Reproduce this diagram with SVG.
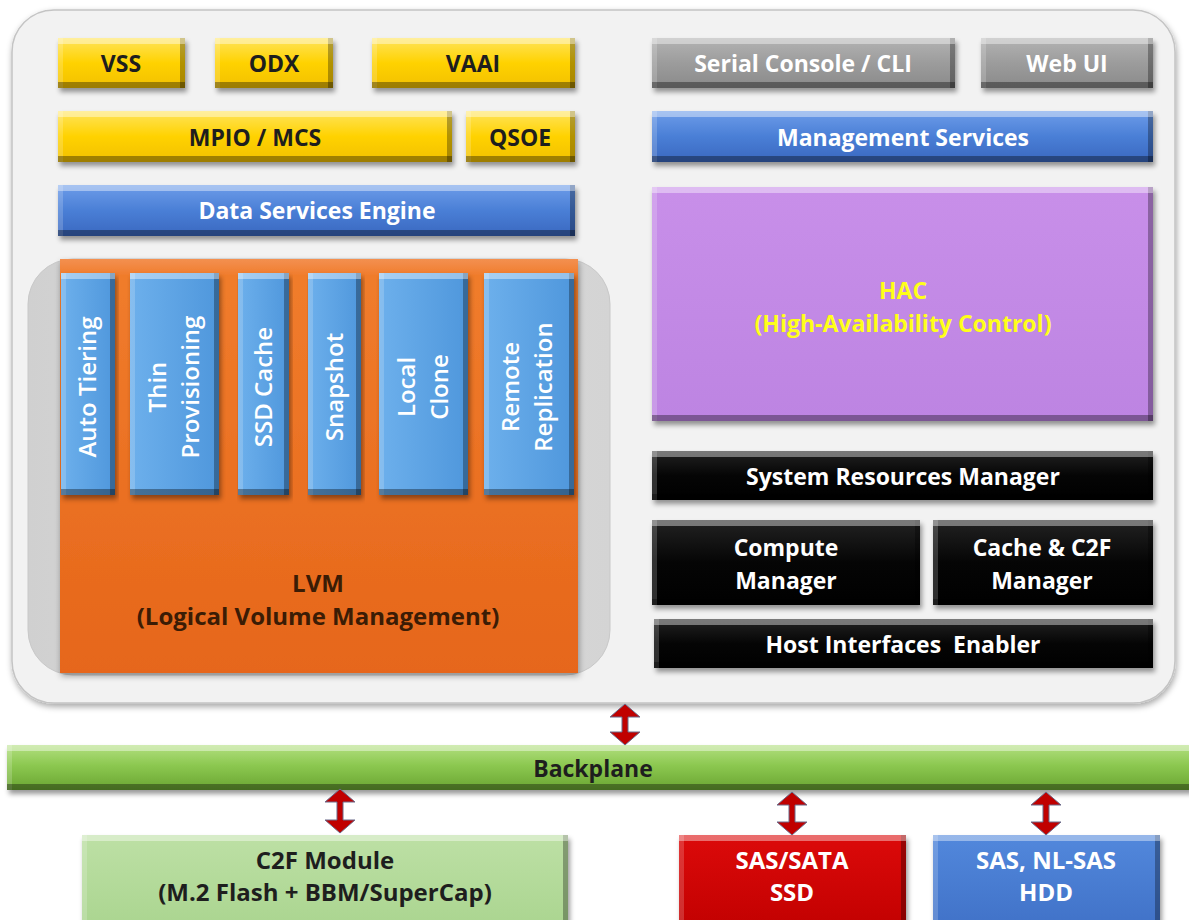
<svg xmlns="http://www.w3.org/2000/svg" width="1189" height="920" viewBox="0 0 1189 920">
<defs>
<style>
text{font-family:"Open Sans",Lato,"Liberation Sans",sans-serif;font-weight:700;font-size:23px;text-anchor:middle;}
.dk{fill:#1e1e1e;}
.wt{fill:#ffffff;}
.yl{fill:#ffff1a;}
.org{fill:#3b1c05;}
.pre{white-space:pre;}
.big{font-size:24px;}
.bx{filter:url(#bevel);}
.vt{font-size:24px;font-weight:600;}
.conn path{fill:#c00000;stroke:#6b6b8a;stroke-width:1;}
</style>
<linearGradient id="gYellow" x1="0" y1="0" x2="0" y2="1"><stop offset="0" stop-color="#ffe45c"/><stop offset="0.5" stop-color="#ffd200"/><stop offset="1" stop-color="#f2c000"/></linearGradient>
<linearGradient id="gGray" x1="0" y1="0" x2="0" y2="1"><stop offset="0" stop-color="#b3b3b3"/><stop offset="0.5" stop-color="#9c9c9c"/><stop offset="1" stop-color="#8a8a8a"/></linearGradient>
<linearGradient id="gBlue" x1="0" y1="0" x2="0" y2="1"><stop offset="0" stop-color="#6d9ce9"/><stop offset="0.5" stop-color="#4a7fd6"/><stop offset="1" stop-color="#3a68c0"/></linearGradient>
<linearGradient id="gPurple" x1="0" y1="0" x2="0" y2="1"><stop offset="0" stop-color="#c88fe9"/><stop offset="1" stop-color="#bd84e2"/></linearGradient>
<linearGradient id="gBlack" x1="0" y1="0" x2="0" y2="1"><stop offset="0" stop-color="#222"/><stop offset="0.5" stop-color="#050505"/><stop offset="1" stop-color="#000"/></linearGradient>
<linearGradient id="gOrange" x1="0" y1="0" x2="0" y2="1"><stop offset="0" stop-color="#f39050"/><stop offset="0.04" stop-color="#f07c2c"/><stop offset="1" stop-color="#e6661a"/></linearGradient>
<linearGradient id="gLBlue" x1="0" y1="0" x2="1" y2="0"><stop offset="0" stop-color="#6db0ec"/><stop offset="1" stop-color="#4f97dc"/></linearGradient>
<linearGradient id="gGreen" x1="0" y1="0" x2="0" y2="1"><stop offset="0" stop-color="#b2df80"/><stop offset="0.45" stop-color="#8cc850"/><stop offset="1" stop-color="#6aa532"/></linearGradient>
<linearGradient id="gC2F" x1="0" y1="0" x2="0" y2="1"><stop offset="0" stop-color="#bde0a5"/><stop offset="1" stop-color="#a9d48e"/></linearGradient>
<linearGradient id="gRed" x1="0" y1="0" x2="0" y2="1"><stop offset="0" stop-color="#dc0a0a"/><stop offset="1" stop-color="#c00000"/></linearGradient>
<linearGradient id="gHDD" x1="0" y1="0" x2="0" y2="1"><stop offset="0" stop-color="#5288dc"/><stop offset="1" stop-color="#3f70c6"/></linearGradient>
<linearGradient id="gInner" x1="0" y1="0" x2="1" y2="0"><stop offset="0" stop-color="#d0d0d0"/><stop offset="0.5" stop-color="#dcdcdc"/><stop offset="1" stop-color="#d4d4d4"/></linearGradient>
<filter id="bevel" x="-5%" y="-15%" width="112%" height="140%" color-interpolation-filters="sRGB">
 <feOffset in="SourceAlpha" dx="0" dy="6" result="dn"/>
 <feComposite in="SourceAlpha" in2="dn" operator="out" result="topb"/>
 <feFlood flood-color="#ffffff" flood-opacity="0.4"/>
 <feComposite in2="topb" operator="in" result="topl"/>
 <feOffset in="SourceAlpha" dx="0" dy="-6" result="up"/>
 <feComposite in="SourceAlpha" in2="up" operator="out" result="botb"/>
 <feFlood flood-color="#000000" flood-opacity="0.35"/>
 <feComposite in2="botb" operator="in" result="botl"/>
 <feOffset in="SourceAlpha" dx="5" dy="0" result="rt"/>
 <feComposite in="SourceAlpha" in2="rt" operator="out" result="leftb"/>
 <feFlood flood-color="#ffffff" flood-opacity="0.18"/>
 <feComposite in2="leftb" operator="in" result="leftl"/>
 <feOffset in="SourceAlpha" dx="-5" dy="0" result="lf"/>
 <feComposite in="SourceAlpha" in2="lf" operator="out" result="rightb"/>
 <feFlood flood-color="#000000" flood-opacity="0.3"/>
 <feComposite in2="rightb" operator="in" result="rightl"/>
 <feGaussianBlur in="SourceAlpha" stdDeviation="2.5"/>
 <feOffset dx="2" dy="4" result="sb"/>
 <feFlood flood-color="#000000" flood-opacity="0.4"/>
 <feComposite in2="sb" operator="in" result="shadow"/>
 <feMerge><feMergeNode in="shadow"/><feMergeNode in="SourceGraphic"/><feMergeNode in="leftl"/><feMergeNode in="rightl"/><feMergeNode in="topl"/><feMergeNode in="botl"/></feMerge>
</filter>
<filter id="soft" x="-5%" y="-5%" width="110%" height="112%">
 <feDropShadow dx="1" dy="3" stdDeviation="3" flood-color="#000" flood-opacity="0.35"/>
</filter>
</defs>

<rect x="0" y="0" width="1189" height="920" fill="#ffffff"/>

<g id="container">
 <rect x="12" y="10" width="1163" height="693" rx="42" fill="#f2f2f2" stroke="#c4c4c4" stroke-width="1.5" filter="url(#soft)"/>
</g>

<g id="vss"><rect class="bx" x="58" y="38" width="127" height="50" fill="url(#gYellow)"/><text class="dk" x="121" y="72">VSS</text></g>
<g id="odx"><rect class="bx" x="215" y="38" width="118" height="50" fill="url(#gYellow)"/><text class="dk" x="274" y="72">ODX</text></g>
<g id="vaai"><rect class="bx" x="372" y="38" width="203" height="50" fill="url(#gYellow)"/><text class="dk" x="473" y="72">VAAI</text></g>
<g id="mpio"><rect class="bx" x="58" y="111" width="394" height="51" fill="url(#gYellow)"/><text class="dk" x="255" y="146">MPIO / MCS</text></g>
<g id="qsoe"><rect class="bx" x="466" y="111" width="109" height="51" fill="url(#gYellow)"/><text class="dk" x="520" y="146">QSOE</text></g>
<g id="dse"><rect class="bx" x="58" y="185" width="517" height="51" fill="url(#gBlue)"/><text class="wt" x="317" y="219">Data Services Engine</text></g>

<g id="serial"><rect class="bx" x="652" y="38" width="303" height="50" fill="url(#gGray)"/><text class="wt" x="803" y="72">Serial Console / CLI</text></g>
<g id="webui"><rect class="bx" x="981" y="38" width="172" height="50" fill="url(#gGray)"/><text class="wt" x="1067" y="72">Web UI</text></g>
<g id="mgmt"><rect class="bx" x="652" y="111" width="501" height="51" fill="url(#gBlue)"/><text class="wt" x="903" y="146">Management Services</text></g>
<g id="hac"><rect class="bx" x="652" y="187" width="501" height="234" fill="url(#gPurple)"/><text class="yl" x="903" y="299">HAC</text><text class="yl" x="903" y="332">(High-Availability Control)</text></g>
<g id="srm"><rect class="bx" x="652" y="451" width="501" height="49" fill="url(#gBlack)"/><text class="wt" x="903" y="485">System Resources Manager</text></g>
<g id="compute"><rect class="bx" x="652" y="520" width="268" height="85" fill="url(#gBlack)"/><text class="wt" x="786" y="556">Compute</text><text class="wt" x="786" y="589">Manager</text></g>
<g id="cachec2f"><rect class="bx" x="933" y="520" width="220" height="85" fill="url(#gBlack)"/><text class="wt" x="1042" y="556">Cache &amp; C2F</text><text class="wt" x="1042" y="589">Manager</text></g>
<g id="hostif"><rect class="bx" x="654" y="619" width="499" height="49" fill="url(#gBlack)"/><text class="wt pre" x="903" y="653">Host Interfaces  Enabler</text></g>

<g id="lvm-frame"><rect x="28" y="259" width="582" height="416" rx="45" fill="url(#gInner)" stroke="#c8c8c8" stroke-width="1"/></g>
<g id="lvm"><rect x="60" y="259" width="518" height="414" fill="url(#gOrange)" filter="url(#soft)"/><text class="org big" x="318" y="592">LVM</text><text class="org big" x="318" y="625">(Logical Volume Management)</text></g>

<g id="autotiering"><rect class="bx" x="61" y="273" width="54" height="222" fill="url(#gLBlue)"/><text class="wt vt" transform="translate(88,387) rotate(-90)" y="8">Auto Tiering</text></g>
<g id="thinprov"><rect class="bx" x="130" y="273" width="89" height="222" fill="url(#gLBlue)"/><text class="wt vt" transform="translate(174,387) rotate(-90)"><tspan x="0" y="-8">Thin</tspan><tspan x="0" y="25">Provisioning</tspan></text></g>
<g id="ssdcache"><rect class="bx" x="238" y="273" width="51" height="222" fill="url(#gLBlue)"/><text class="wt vt" transform="translate(264,387) rotate(-90)" y="8">SSD Cache</text></g>
<g id="snapshot"><rect class="bx" x="308" y="273" width="53" height="222" fill="url(#gLBlue)"/><text class="wt vt" transform="translate(335,387) rotate(-90)" y="8">Snapshot</text></g>
<g id="localclone"><rect class="bx" x="379" y="273" width="89" height="222" fill="url(#gLBlue)"/><text class="wt vt" transform="translate(423,387) rotate(-90)"><tspan x="0" y="-8">Local</tspan><tspan x="0" y="25">Clone</tspan></text></g>
<g id="remoterep"><rect class="bx" x="484" y="273" width="90" height="222" fill="url(#gLBlue)"/><text class="wt vt" transform="translate(527,387) rotate(-90)"><tspan x="0" y="-8">Remote</tspan><tspan x="0" y="25">Replication</tspan></text></g>

<g id="backplane"><rect class="bx" x="7" y="745" width="1190" height="45" fill="url(#gGreen)"/><text class="dk" x="593" y="777">Backplane</text></g>

<g id="c2f"><rect class="bx" x="82" y="835" width="486" height="100" fill="url(#gC2F)"/><text class="dk big" x="325" y="869">C2F Module</text><text class="dk big" x="325" y="901">(M.2 Flash + BBM/SuperCap)</text></g>
<g id="ssd"><rect class="bx" x="679" y="835" width="227" height="100" fill="url(#gRed)"/><text class="wt big" x="792" y="869">SAS/SATA</text><text class="wt big" x="792" y="901">SSD</text></g>
<g id="hdd"><rect class="bx" x="933" y="835" width="227" height="100" fill="url(#gHDD)"/><text class="wt big" x="1046" y="869">SAS, NL-SAS</text><text class="wt big" x="1046" y="901">HDD</text></g>

<g id="connectors" class="conn">
 <path d="M625,704 L640,717 L628,717 L628,732 L640,732 L625,745 L610,732 L622,732 L622,717 L610,717 Z"/>
 <path d="M340,789 L355,802 L343,802 L343,820 L355,820 L340,833 L325,820 L337,820 L337,802 L325,802 Z"/>
 <path d="M792,792 L807,805 L795,805 L795,822 L807,822 L792,835 L777,822 L789,822 L789,805 L777,805 Z"/>
 <path d="M1046,792 L1061,805 L1049,805 L1049,822 L1061,822 L1046,835 L1031,822 L1043,822 L1043,805 L1031,805 Z"/>
</g>
</svg>
